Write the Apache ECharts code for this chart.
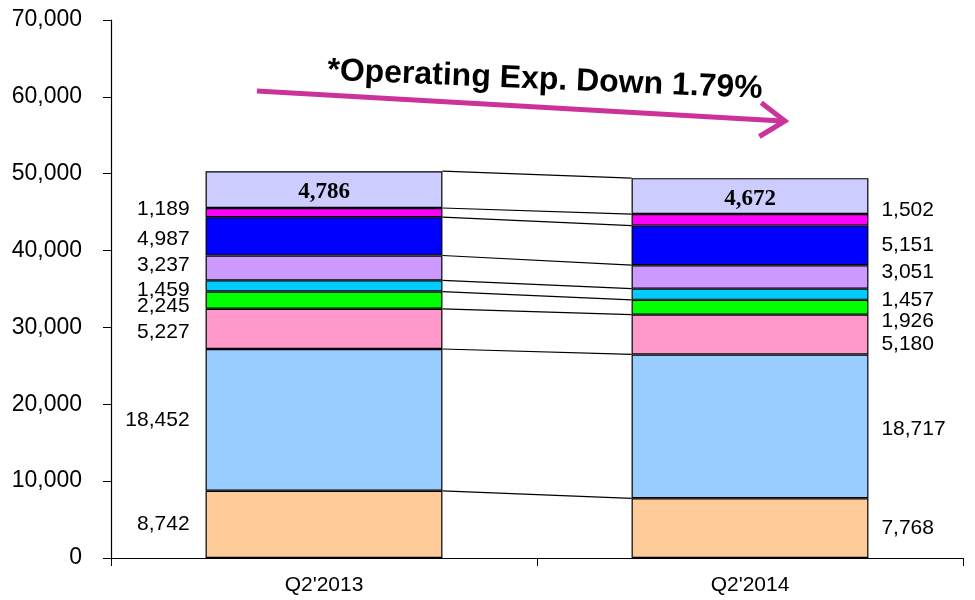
<!DOCTYPE html>
<html>
<head>
<meta charset="utf-8">
<script src="https://cdn.jsdelivr.net/npm/echarts@6/dist/echarts.min.js"></script>
<style>
  html, body { margin: 0; padding: 0; background: #fff; }
  #main { width: 975px; height: 600px; }
</style>
</head>
<body>
<div id="main"></div>
<script>
// 数据
var categories = ["Q2'2013", "Q2'2014"];
// 从下往上的各部分
var seg1 = [8742, 7768];
var seg2 = [18452, 18717];
var seg3 = [5227, 5180];
var seg4 = [2245, 1926];
var seg5 = [1459, 1457];
var seg6 = [3237, 3051];
var seg7 = [4987, 5151];
var seg8 = [1189, 1502];
var seg9 = [4786, 4672];
var yTicks = [0, 10000, 20000, 30000, 40000, 50000, 60000, 70000];
var note = '*Operating Exp. Down 1.79%';

var segs = [seg1, seg2, seg3, seg4, seg5, seg6, seg7, seg8, seg9];
var colors = ['#FFCC99', '#99CCFF', '#FF99CC', '#00FF00', '#00CCFF', '#CC99FF', '#0000FF', '#FF00FF', '#CCCCFF'];
// 标签的上下微调(像素)，避免重叠
var nudgeL = [0, 0, 3, 6, 4, -3, 3, -3];
var nudgeR = [0, 3, 10, 14, 6, -5, 0, -10];
var barFrac = 0.556;

function fmt(v) {
    return v.toString().replace(/\B(?=(\d{3})+(?!\d))/g, ',');
}

var myChart = echarts.init(document.getElementById('main'));

var series = [];
// 累计高度，用来画连接线
var tops = [];
var acc = [0, 0];
for (var i = 0; i < segs.length; i++) {
    acc = [acc[0] + segs[i][0], acc[1] + segs[i][1]];
    tops.push([0, acc[0], acc[1]]);
    var isTop = (i == segs.length - 1);
    var data;
    if (isTop) {
        data = segs[i];
    } else {
        data = [
            { value: segs[i][0], label: { position: 'left', distance: 16, offset: [0, nudgeL[i]] } },
            { value: segs[i][1], label: { position: 'right', distance: 13, offset: [0, nudgeR[i]] } }
        ];
    }
    series.push({
        type: 'bar',
        stack: 'total',
        barWidth: (barFrac * 100) + '%',
        itemStyle: { color: colors[i], borderColor: '#000', borderWidth: 1.2 },
        label: isTop ? {
            show: true,
            position: 'insideTop',
            distance: 9,
            fontFamily: 'Liberation Serif',
            fontWeight: 'bold',
            fontSize: 23,
            color: '#000',
            formatter: function (p) { return fmt(p.value); }
        } : {
            show: true,
            fontFamily: 'Liberation Sans',
            fontSize: 21,
            color: '#000',
            formatter: function (p) { return fmt(p.value); }
        },
        emphasis: { disabled: true },
        data: data
    });
}

// 两个柱子之间的连接线
series.push({
    type: 'custom',
    silent: true,
    encode: { x: 0, y: 1 },
    renderItem: function (params, api) {
        var p1 = api.coord([0, api.value(1)]);
        var p2 = api.coord([1, api.value(2)]);
        var w = api.size([1, 0])[0] * barFrac;
        return {
            type: 'line',
            shape: { x1: p1[0] + w / 2, y1: p1[1], x2: p2[0] - w / 2, y2: p2[1] },
            style: { stroke: '#000', lineWidth: 1.2 }
        };
    },
    data: tops,
    z: 5
});

// 箭头
var ax1 = [257, 91], ax2 = [785, 121];
var ang = Math.atan2(ax2[1] - ax1[1], ax2[0] - ax1[0]);
var armLen = 30, armAng = 0.6;
var head = [
    [ax2[0] - armLen * Math.cos(ang - armAng), ax2[1] - armLen * Math.sin(ang - armAng)],
    ax2,
    [ax2[0] - armLen * Math.cos(ang + armAng), ax2[1] - armLen * Math.sin(ang + armAng)]
];

var option = {
    animation: false,
    backgroundColor: '#fff',
    grid: { left: 111, right: 12, top: 20, bottom: 42 },
    xAxis: {
        type: 'category',
        data: categories,
        axisLine: { lineStyle: { color: '#000', width: 1.2 } },
        axisTick: { show: true, length: 8, lineStyle: { color: '#000' } },
        axisLabel: { color: '#000', fontFamily: 'Liberation Sans', fontSize: 21, margin: 17 }
    },
    yAxis: {
        type: 'value',
        min: yTicks[0],
        max: yTicks[yTicks.length - 1],
        interval: yTicks[1] - yTicks[0],
        splitLine: { show: false },
        axisLine: { show: true, lineStyle: { color: '#000', width: 1.2 } },
        axisTick: { show: true, length: 8, lineStyle: { color: '#000' } },
        axisLabel: {
            color: '#000', fontFamily: 'Liberation Sans', fontSize: 23, margin: 29,
            formatter: function (v) { return fmt(v); }
        }
    },
    graphic: [
        {
            type: 'line',
            shape: { x1: ax1[0], y1: ax1[1], x2: ax2[0] - 3, y2: ax2[1] },
            style: { stroke: '#CC3399', lineWidth: 5 },
            z: 100
        },
        {
            type: 'polyline',
            shape: { points: head },
            style: { stroke: '#CC3399', lineWidth: 5, fill: null, lineJoin: 'miter' },
            z: 100
        },
        {
            type: 'text',
            x: 545,
            y: 80,
            rotation: -0.042,
            style: {
                text: note,
                fontFamily: 'Liberation Sans',
                fontWeight: 'bold',
                fontSize: 32,
                fill: '#000',
                align: 'center',
                verticalAlign: 'middle'
            },
            z: 100
        }
    ],
    series: series
};

myChart.setOption(option);
</script>
</body>
</html>
